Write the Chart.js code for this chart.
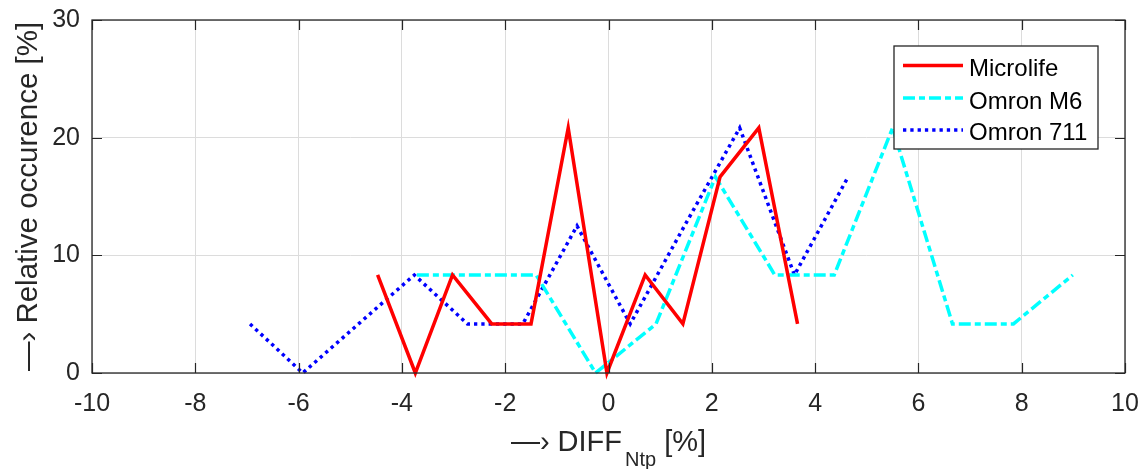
<!DOCTYPE html>
<html><head><meta charset="utf-8">
<script src="https://cdn.jsdelivr.net/npm/chart.js@4.4.1/dist/chart.umd.min.js"></script>
<style>html,body{margin:0;padding:0;background:#fff;} #wrap{width:1142px;height:469px;position:relative;}</style>
</head><body><div id="wrap"><canvas id="c"></canvas></div>
<script>
const seriesNames = ['Microlife', 'Omron M6', 'Omron 711'];
const microlifeX = [-4.47, -3.74, -3.02, -2.26, -1.50, -0.78, -0.03, 0.71, 1.44, 2.16, 2.91, 3.66];
const microlifeY = [8.33, 0, 8.33, 4.17, 4.17, 20.83, 0, 8.33, 4.17, 16.67, 20.83, 4.17];
const omronM6X = [-3.71, -2.56, -1.40, -0.25, 0.92, 2.07, 3.22, 4.37, 5.50, 6.66, 7.84, 8.99];
const omronM6Y = [8.33, 8.33, 8.33, 0, 4.17, 16.67, 8.33, 8.33, 20.83, 4.17, 4.17, 8.33];
const omron711X = [-6.94, -5.92, -4.84, -3.76, -2.73, -1.66, -0.61, 0.42, 1.47, 2.54, 3.60, 4.64];
const omron711Y = [4.17, 0, 4.17, 8.33, 4.17, 4.17, 12.5, 4.17, 12.5, 20.83, 8.33, 16.67];
const xTickValues = [-10, -8, -6, -4, -2, 0, 2, 4, 6, 8, 10];
const yTickValues = [0, 10, 20, 30];
const yTitle = '\u2014\u203A Relative occurence [%]';
const xTitleMain = '\u2014\u203A DIFF';
const xTitleSub = 'Ntp';
const xTitleEnd = ' [%]';

const FONT = '"Liberation Sans", Arial, Helvetica, sans-serif';
const AXCOL = '#262626';

function pts(xs, ys) { return xs.map((x, i) => ({ x: x, y: ys[i] })); }

const decor = {
  id: 'decor',
  afterDraw(chart) {
    const ctx = chart.ctx, a = chart.chartArea;
    const xs = chart.scales.x, ys = chart.scales.y;
    ctx.save();
    // box
    ctx.strokeStyle = AXCOL; ctx.lineWidth = 1.3;
    ctx.strokeRect(a.left, a.top, a.right - a.left, a.bottom - a.top);
    // inward ticks
    ctx.lineWidth = 1.2;
    ctx.beginPath();
    xTickValues.forEach(v => {
      const px = Math.round(xs.getPixelForValue(v)) + 0.5;
      ctx.moveTo(px, a.bottom); ctx.lineTo(px, a.bottom - 10);
      ctx.moveTo(px, a.top); ctx.lineTo(px, a.top + 10);
    });
    yTickValues.forEach(v => {
      const py = Math.round(ys.getPixelForValue(v)) + 0.5;
      ctx.moveTo(a.left, py); ctx.lineTo(a.left + 10, py);
      ctx.moveTo(a.right, py); ctx.lineTo(a.right - 10, py);
    });
    ctx.stroke();

    // legend
    const bw = 204, bh = 103;
    const bx = a.right - 27 - bw, by = a.top + 26;
    ctx.fillStyle = '#fff';
    ctx.fillRect(bx, by, bw, bh);
    ctx.strokeStyle = AXCOL; ctx.lineWidth = 1.3;
    ctx.strokeRect(bx, by, bw, bh);
    const rowsMid = [19.5, 52, 84];
    const rowsBase = [30, 62.5, 94];
    chart.data.datasets.forEach((ds, i) => {
      ctx.save();
      ctx.strokeStyle = ds.borderColor;
      ctx.lineWidth = ds.borderWidth;
      ctx.setLineDash(ds.borderDash || []);
      ctx.beginPath();
      ctx.moveTo(bx + 9, by + rowsMid[i]);
      ctx.lineTo(bx + 69, by + rowsMid[i]);
      ctx.stroke();
      ctx.restore();
      ctx.fillStyle = '#000';
      ctx.font = '24px ' + FONT;
      ctx.textAlign = 'left';
      ctx.textBaseline = 'alphabetic';
      ctx.fillText(ds.label, bx + 75, by + rowsBase[i]);
    });

    // y title
    ctx.fillStyle = AXCOL;
    ctx.font = '29.5px ' + FONT;
    ctx.save();
    ctx.translate(37, (a.top + a.bottom) / 2);
    ctx.rotate(-Math.PI / 2);
    ctx.textAlign = 'center';
    ctx.textBaseline = 'alphabetic';
    ctx.fillText(yTitle, 0, 0);
    ctx.restore();

    // x title with subscript
    const big = '29px ' + FONT, small = '20px ' + FONT;
    ctx.font = big; const w1 = ctx.measureText(xTitleMain).width;
    const w3 = ctx.measureText(xTitleEnd).width;
    ctx.font = small; const w2 = ctx.measureText(xTitleSub).width;
    const total = w1 + 3 + w2 + w3;
    let x0 = (a.left + a.right) / 2 - total / 2;
    const base = 451;
    ctx.textAlign = 'left'; ctx.textBaseline = 'alphabetic';
    ctx.font = big; ctx.fillText(xTitleMain, x0, base);
    ctx.font = small; ctx.fillText(xTitleSub, x0 + w1 + 3, base + 15);
    ctx.font = big; ctx.fillText(xTitleEnd, x0 + w1 + 3 + w2, base);
    ctx.restore();
  }
};

function noPad(s) { s.paddingTop = 0; s.paddingBottom = 0; s.paddingLeft = 0; s.paddingRight = 0; }

new Chart(document.getElementById('c'), {
  type: 'scatter',
  data: {
    datasets: [
      { label: seriesNames[0], data: pts(microlifeX, microlifeY), showLine: true, borderColor: '#ff0000', backgroundColor: '#ff0000', borderWidth: 3.5, pointRadius: 0, clip: false },
      { label: seriesNames[1], data: pts(omronM6X, omronM6Y), showLine: true, borderColor: '#00ffff', backgroundColor: '#00ffff', borderWidth: 3.5, borderDash: [12, 4, 6, 4], pointRadius: 0, clip: false },
      { label: seriesNames[2], data: pts(omron711X, omron711Y), showLine: true, borderColor: '#0000ff', backgroundColor: '#0000ff', borderWidth: 3.5, borderDash: [3.3, 4], pointRadius: 0, clip: false }
    ]
  },
  options: {
    responsive: true, maintainAspectRatio: false, animation: false,
    layout: { padding: { left: 0, top: 20, right: 17, bottom: 0 } },
    plugins: { legend: { display: false }, tooltip: { enabled: false } },
    scales: {
      x: {
        type: 'linear', min: -10, max: 10,
        afterBuildTicks: s => { s.ticks = xTickValues.map(v => ({ value: v })); },
        afterFit: s => { s.height = 96; noPad(s); },
        grid: { color: '#dcdcdc', lineWidth: 1, drawTicks: false },
        border: { display: false },
        ticks: { autoSkip: false, maxRotation: 0, padding: 16, color: AXCOL, font: { family: FONT, size: 25 } }
      },
      y: {
        type: 'linear', min: 0, max: 30,
        afterBuildTicks: s => { s.ticks = yTickValues.map(v => ({ value: v })); },
        afterFit: s => { s.width = 92; noPad(s); },
        grid: { color: '#dcdcdc', lineWidth: 1, drawTicks: false },
        border: { display: false },
        ticks: { autoSkip: false, padding: 12, color: AXCOL, font: { family: FONT, size: 25 } }
      }
    }
  },
  plugins: [decor]
});
</script>
</body></html>
